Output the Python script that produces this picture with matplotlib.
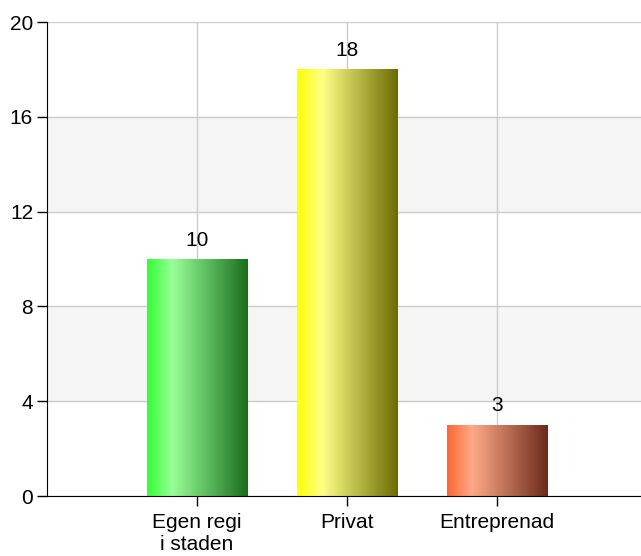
import numpy as np
import matplotlib.pyplot as plt
from matplotlib.colors import LinearSegmentedColormap

plt.rcParams['font.family'] = ['Liberation Sans', 'DejaVu Sans']

# data
categories = ['Egen regi\ni staden', 'Privat', 'Entreprenad']
values = [10, 18, 3]
# gradient colours for each bar: left, highlight, right
bar_colors = [
    ['#33ff33', '#99ff99', '#1a6e1a'],
    ['#ffff00', '#ffff88', '#6b6b00'],
    ['#ff6633', '#ffaa88', '#6b2a1a'],
]

fig = plt.figure(figsize=(6.41, 5.56), dpi=100)
ax = fig.add_axes([47/641, 60/556, 594/641, 474/556])

x = np.arange(1, len(values) + 1)

# alternating bands
for lo in (4, 12):
    ax.axhspan(lo, lo + 4, color='#f5f5f5', zorder=0)

ax.set_yticks([0, 4, 8, 12, 16, 20])
ax.set_xticks(x)
ax.set_xticklabels(categories, linespacing=1.25)
ax.grid(True, color='#cccccc', linewidth=1, zorder=1)
ax.set_axisbelow(True)

grad = np.linspace(0, 1, 256).reshape(1, -1)
bars = ax.bar(x, values, width=0.67, color='none', zorder=2)
for b, cols in zip(bars, bar_colors):
    cmap = LinearSegmentedColormap.from_list('g', [(0, cols[0]), (0.25, cols[1]), (1, cols[2])])
    x0, y0 = b.get_x(), b.get_y()
    im = ax.imshow(grad, cmap=cmap, aspect='auto', zorder=2,
                   extent=[x0, x0 + b.get_width(), y0, y0 + b.get_height()])
    im.set_clip_path(b)
    ax.text(b.get_x() + b.get_width() / 2, b.get_height() + 0.4, str(int(b.get_height())),
            ha='center', va='bottom', fontsize=15, zorder=3)

ax.set_xlim(0, 594/150)
ax.set_ylim(0, 20)

for s in ('top', 'right'):
    ax.spines[s].set_visible(False)
ax.spines['left'].set_color('black')
ax.spines['bottom'].set_color('black')
ax.tick_params(axis='both', length=7, width=1, color='black', labelsize=15)
ax.tick_params(axis='x', pad=5)
ax.tick_params(axis='y', pad=3)

fig.savefig('out.png', dpi=100)
